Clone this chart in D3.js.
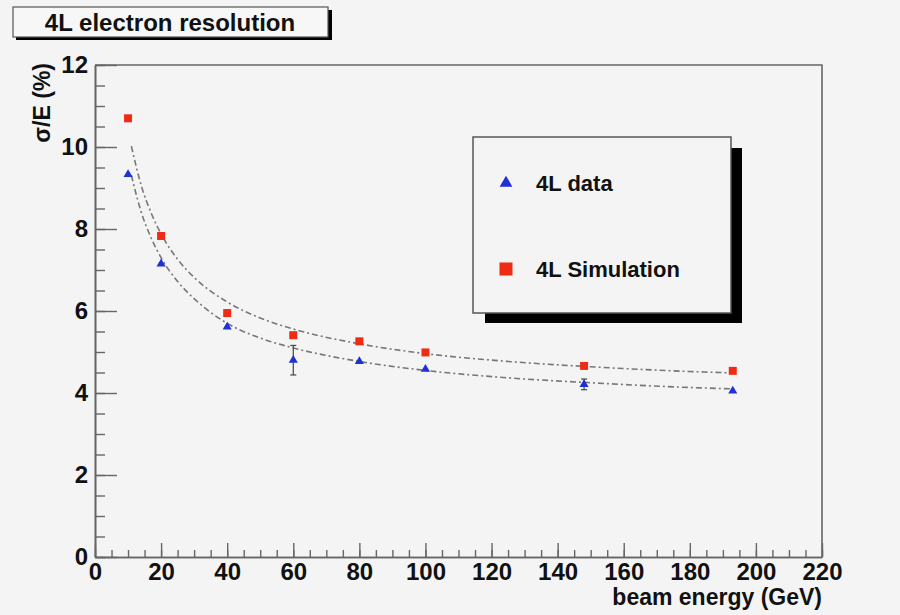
<!DOCTYPE html>
<html>
<head>
<meta charset="utf-8">
<script src="https://cdn.jsdelivr.net/npm/d3@7"></script>
<style>
  body { margin: 0; background: #f4f4f4; }
  svg { display: block; font-family: "Liberation Sans", Arial, Helvetica, sans-serif; font-weight: bold; }
</style>
</head>
<body>
<div id="chart"></div>
<script>
// measured points
const energies = [10, 20, 40, 60, 80, 100, 148, 193];
const dataRes = [9.33, 7.15, 5.61, 4.80, 4.77, 4.58, 4.21, 4.05];
const dataErr = [0, 0, 0, 0.36, 0, 0, 0.13, 0];
const simRes = [10.70, 7.83, 5.95, 5.41, 5.26, 4.99, 4.66, 4.54];

// fit curves
const fitE = [11, 14, 17, 20, 25, 30, 40, 50, 60, 80, 100, 125, 150, 175, 193];
const simFit = [10.02, 9.06, 8.39, 7.88, 7.26, 6.82, 6.22, 5.83, 5.56, 5.20, 4.96, 4.77, 4.64, 4.54, 4.49];
const dataFit = [9.31, 8.41, 7.78, 7.30, 6.72, 6.30, 5.70, 5.34, 5.10, 4.77, 4.55, 4.37, 4.25, 4.15, 4.10];

const xTicks = d3.range(0, 221, 20);
const yTicks = d3.range(0, 13, 2);
const legendLabels = ["4L data", "4L Simulation"];

const width = 900, height = 615;
const plot = {left: 95, right: 822, top: 65, bottom: 557};
const blue = "#1f30d6", red = "#ee2c14", axisCol = "#666";

const svg = d3.select("#chart").append("svg")
    .attr("width", width)
    .attr("height", height);

svg.append("rect").attr("width", width).attr("height", height).attr("fill", "#f4f4f4");

const x = d3.scaleLinear().domain([0, 220]).range([plot.left, plot.right]);
const y = d3.scaleLinear().domain([0, 12]).range([plot.bottom, plot.top]);

// frame
svg.append("path")
    .attr("d", `M${plot.left},${plot.top}H${plot.right}V${plot.bottom}`)
    .attr("fill", "none")
    .attr("stroke", axisCol)
    .attr("stroke-width", 1.6);

// minor ticks
const xMinor = svg.append("g")
    .attr("transform", `translate(0,${plot.bottom})`)
    .call(d3.axisBottom(x).tickValues(d3.range(0, 221, 5)).tickSize(-7).tickSizeOuter(0).tickFormat(""));
const yMinor = svg.append("g")
    .attr("transform", `translate(${plot.left},0)`)
    .call(d3.axisLeft(y).tickValues(d3.range(0, 12.01, 0.5)).tickSize(-10).tickSizeOuter(0).tickFormat(""));

// major ticks + labels
const xAxis = svg.append("g")
    .attr("transform", `translate(0,${plot.bottom})`)
    .call(d3.axisBottom(x).tickValues(xTicks).tickSize(-14).tickSizeOuter(0).tickPadding(6));
const yAxis = svg.append("g")
    .attr("transform", `translate(${plot.left},0)`)
    .call(d3.axisLeft(y).tickValues(yTicks).tickSize(-22).tickSizeOuter(0).tickPadding(7));

[xMinor, yMinor, xAxis, yAxis].forEach(g => {
    g.selectAll("path.domain").attr("stroke", axisCol).attr("stroke-width", 1.6);
    g.selectAll(".tick line").attr("stroke", axisCol).attr("stroke-width", 1.4);
    g.selectAll("text")
        .attr("fill", "#111")
        .style("font-size", "24px")
        .style("font-weight", "bold")
        .style("font-family", "'Liberation Sans', Arial, sans-serif");
});

// axis titles
svg.append("text")
    .attr("x", plot.right)
    .attr("y", 605)
    .attr("text-anchor", "end")
    .style("font-size", "23px")
    .attr("fill", "#111")
    .text("beam energy (GeV)");

svg.append("text")
    .attr("transform", `translate(50,${plot.top - 2}) rotate(-90)`)
    .attr("text-anchor", "end")
    .style("font-size", "23px")
    .attr("fill", "#111")
    .text("σ/E (%)");

// fit curves
const line = d3.line()
    .x(d => x(d[0]))
    .y(d => y(d[1]))
    .curve(d3.curveMonotoneX);

[simFit, dataFit].forEach(vals => {
    svg.append("path")
        .attr("d", line(fitE.map((e, i) => [e, vals[i]])))
        .attr("fill", "none")
        .attr("stroke", "#777")
        .attr("stroke-width", 1.6)
        .attr("stroke-dasharray", "6,3,2,3");
});

// error bars
const errs = energies.map((e, i) => ({e: e, v: dataRes[i], err: dataErr[i]})).filter(d => d.err > 0);
const eb = svg.append("g").attr("stroke", "#444").attr("stroke-width", 1.2);
eb.selectAll("line.bar").data(errs).join("line")
    .attr("x1", d => x(d.e)).attr("x2", d => x(d.e))
    .attr("y1", d => y(d.v - d.err)).attr("y2", d => y(d.v + d.err));
eb.selectAll("line.cap").data(errs.flatMap(d => [d.v - d.err, d.v + d.err].map(v => ({e: d.e, v: v})))).join("line")
    .attr("x1", d => x(d.e) - 3).attr("x2", d => x(d.e) + 3)
    .attr("y1", d => y(d.v)).attr("y2", d => y(d.v));

// markers
const tri = d3.symbol().type(d3.symbolTriangle).size(36);
const sq = d3.symbol().type(d3.symbolSquare).size(64);

svg.append("g").selectAll("path")
    .data(energies.map((e, i) => [e, simRes[i]]))
    .join("path")
    .attr("d", sq)
    .attr("transform", d => `translate(${x(d[0])},${y(d[1])})`)
    .attr("fill", red);

svg.append("g").selectAll("path")
    .data(energies.map((e, i) => [e, dataRes[i]]))
    .join("path")
    .attr("d", tri)
    .attr("transform", d => `translate(${x(d[0])},${y(d[1])})`)
    .attr("fill", blue);

// legend
const lg = svg.append("g");
lg.append("rect").attr("x", 485).attr("y", 148).attr("width", 257).attr("height", 175).attr("fill", "#000");
lg.append("rect").attr("x", 473).attr("y", 137).attr("width", 258).attr("height", 176)
    .attr("fill", "#f4f4f4").attr("stroke", "#555").attr("stroke-width", 1.5);

const items = lg.selectAll("g.item")
    .data(legendLabels)
    .join("g")
    .attr("transform", (d, i) => `translate(506,${183 + i * 86})`);
items.append("path")
    .attr("d", (d, i) => i === 0
        ? d3.symbol().type(d3.symbolTriangle).size(70)()
        : d3.symbol().type(d3.symbolSquare).size(170)())
    .attr("fill", (d, i) => i === 0 ? blue : red);
items.append("text")
    .attr("x", 30)
    .attr("y", 8)
    .style("font-size", "22px")
    .attr("fill", "#111")
    .text(d => d);

// title box
svg.append("rect").attr("x", 16).attr("y", 10).attr("width", 316).attr("height", 30).attr("fill", "#000");
svg.append("rect").attr("x", 13).attr("y", 7).attr("width", 315).attr("height", 30)
    .attr("fill", "#f7f7f7").attr("stroke", "#555").attr("stroke-width", 1.2);
svg.append("text")
    .attr("x", 170)
    .attr("y", 31)
    .attr("text-anchor", "middle")
    .style("font-size", "24px")
    .attr("fill", "#111")
    .text("4L electron resolution");
</script>
</body>
</html>
